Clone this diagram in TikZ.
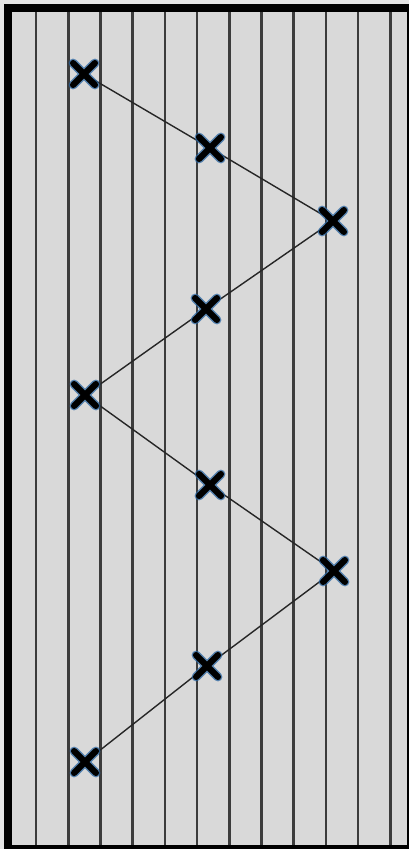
\documentclass[tikz,border=0pt]{standalone}
\usetikzlibrary{shapes.misc}
\definecolor{panelgray}{HTML}{D9D9D9}
\definecolor{margingray}{HTML}{E4E4E4}
\definecolor{rulegray}{HTML}{3C3C3C}
\definecolor{markglow}{RGB}{40,100,160}
\pgfdeclarelayer{grid}
\pgfdeclarelayer{links}
\pgfsetlayers{grid,links,main}
\tikzset{
  xmark/.style={cross out, draw=black, line width=6.3pt, line cap=round,
    minimum size=15.5pt, inner sep=0pt,
    preaction={draw=markglow, draw opacity=0.75, line width=9pt}},
  link/.style={draw=black!85, line width=1.4pt}
}
\begin{document}
\begin{tikzpicture}[x=1pt,y=-1pt]
  \useasboundingbox (0,0) rectangle (409,849);
  \clip (0,0) rectangle (409,849);
  \begin{pgfonlayer}{grid}
    \fill[margingray] (0,0) rectangle (409,849);
    \fill[panelgray] (7.9,7.9) rectangle (411,848);
    \foreach \i in {0,...,11} {
      \draw[rulegray, line width=2.6pt] (36+32.2*\i,10) -- (36+32.2*\i,846);
    }
    \draw[black, line width=7.8pt] (7.9,7.9) rectangle (411,848.5);
  \end{pgfonlayer}
  % zigzag of marks
  \node[xmark] (m1) at (84,74) {};
  \node[xmark] (m2) at (210,148) {};
  \node[xmark] (m3) at (333,221) {};
  \node[xmark] (m4) at (206,309) {};
  \node[xmark] (m5) at (85,395) {};
  \node[xmark] (m6) at (210,485) {};
  \node[xmark] (m7) at (334,571) {};
  \node[xmark] (m8) at (207,666) {};
  \node[xmark] (m9) at (85,762) {};
  \begin{pgfonlayer}{links}
    \foreach \a/\b in {m1/m2,m2/m3,m3/m4,m4/m5,m5/m6,m6/m7,m7/m8,m8/m9} {
      \draw[link] (\a.center) -- (\b.center);
    }
  \end{pgfonlayer}
\end{tikzpicture}
\end{document}
